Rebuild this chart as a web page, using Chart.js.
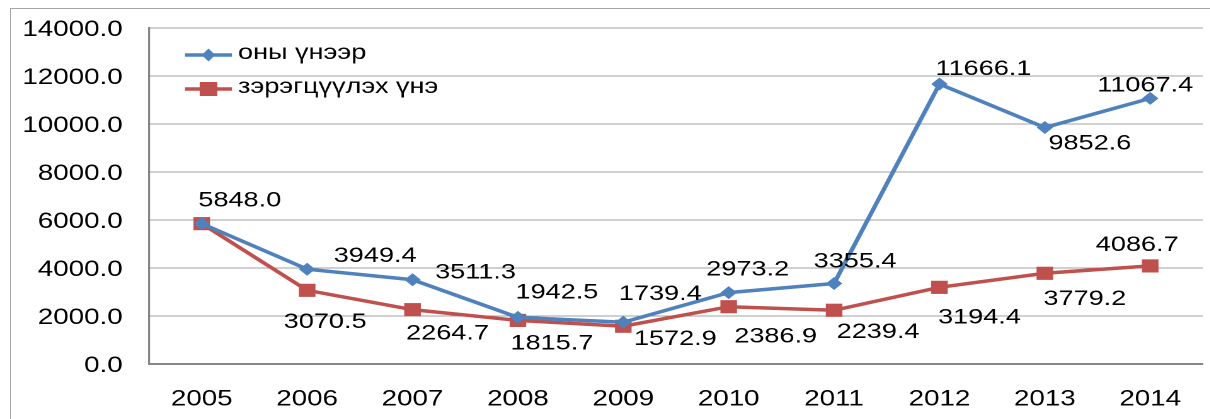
<!DOCTYPE html>
<html>
<head>
<meta charset="utf-8">
<script src="https://cdn.jsdelivr.net/npm/chart.js@4.4.1/dist/chart.umd.min.js"></script>
<style>
  html, body { margin: 0; padding: 0; background: #fff; overflow: hidden; width: 1210px; height: 419px; }
  #frame { position: absolute; left: 10px; top: 8px; width: 1400px; height: 600px; border: 1px solid #a6a6a6; box-sizing: border-box; }
  #wrap { position: absolute; left: 0; top: 0; width: 964px; height: 419px; transform: scaleX(1.26); transform-origin: 0 0; }
</style>
</head>
<body>
<div id="frame"></div>
<div id="wrap"><canvas id="c" width="964" height="419" style="width:964px;height:419px"></canvas></div>
<script>
// ---- data ----
const years = ['2005', '2006', '2007', '2008', '2009', '2010', '2011', '2012', '2013', '2014'];
const currentPrices = [5848.0, 3949.4, 3511.3, 1942.5, 1739.4, 2973.2, 3355.4, 11666.1, 9852.6, 11067.4];
const constantPrices = [5848.0, 3070.5, 2264.7, 1815.7, 1572.9, 2386.9, 2239.4, 3194.4, 3779.2, 4086.7];
const seriesNames = ['оны үнээр', 'зэрэгцүүлэх үнэ'];
const yTicks = [0, 2000, 4000, 6000, 8000, 10000, 12000, 14000];

// ---- styling / placement (not data) ----
const SX = 1.26;                 // horizontal stretch of the picture
const FONT = '"Liberation Sans", Arial, sans-serif';
const BLUE = '#4F81BD', RED = '#C0504D';
// data label offsets from their points, in screen px [dx, dy]; null = no label
const labelOffsets = [
  [[38,-23],[68,-13],[63,-7],[39,-25],[37,-28],[19,-23],[21,-22],[44,-15],[45,16],[-5,-13]],
  [null,[18,32],[35,24],[34,23],[52,13],[47,30],[44,22],[40,30],[40,26],[-13,-21]]
];

const dataLabelsPlugin = {
  id: 'dataLabels',
  afterDatasetsDraw(chart) {
    const ctx = chart.ctx;
    chart.data.datasets.forEach((ds, di) => {
      const meta = chart.getDatasetMeta(di);
      meta.data.forEach((el, i) => {
        const off = labelOffsets[di][i];
        if (!off) return;
        const x = el.x + off[0] / SX, y = el.y + off[1];
        ctx.save();
        ctx.font = '21.5px ' + FONT;
        ctx.fillStyle = '#000';
        ctx.textAlign = 'center';
        ctx.textBaseline = 'middle';
        ctx.fillText(ds.data[i].toFixed(1), x, y);
        ctx.restore();
      });
    });
  }
};

const legendPlugin = {
  id: 'insideLegend',
  afterDraw(chart) {
    const ctx = chart.ctx;
    const rows = [55, 89];
    const x0 = 146.8, x1 = 184.1, xm = (x0 + x1) / 2, xt = 188.9;
    chart.data.datasets.forEach((ds, di) => {
      const y = rows[di];
      ctx.save();
      ctx.strokeStyle = ds.borderColor;
      ctx.lineWidth = ds.borderWidth;
      ctx.beginPath(); ctx.moveTo(x0, y); ctx.lineTo(x1, y); ctx.stroke();
      ctx.fillStyle = ds.pointBackgroundColor;
      ctx.beginPath();
      if (ds.pointStyle === 'rectRot') {
        const r = 6.5;
        ctx.moveTo(xm, y - r); ctx.lineTo(xm + r * 0.82, y); ctx.lineTo(xm, y + r); ctx.lineTo(xm - r * 0.82, y); ctx.closePath();
      } else {
        ctx.rect(xm - 7, y - 7, 14, 14);
      }
      ctx.fill();
      ctx.font = '21.5px ' + FONT;
      ctx.fillStyle = '#000';
      ctx.textAlign = 'left';
      ctx.textBaseline = 'middle';
      ctx.fillText(ds.label, xt, y - 1.8);
      ctx.restore();
    });
  }
};

new Chart(document.getElementById('c'), {
  type: 'line',
  data: {
    labels: years,
    datasets: [
      {
        label: seriesNames[0], data: currentPrices,
        borderColor: BLUE, backgroundColor: BLUE, pointBackgroundColor: BLUE, pointBorderColor: BLUE,
        borderWidth: 3.5, pointStyle: 'rectRot', pointRadius: 6.5, pointBorderWidth: 0, tension: 0
      },
      {
        label: seriesNames[1], data: constantPrices,
        borderColor: RED, backgroundColor: RED, pointBackgroundColor: RED, pointBorderColor: RED,
        borderWidth: 3.5, pointStyle: 'rect', pointRadius: 9.3, pointBorderWidth: 0, tension: 0
      }
    ]
  },
  options: {
    responsive: false,
    animation: false,
    devicePixelRatio: 2,
    layout: { padding: { top: 28, right: 0, left: 0, bottom: 0 } },
    plugins: { legend: { display: false }, tooltip: { enabled: false } },
    scales: {
      x: {
        offset: true,
        grid: { display: false, drawTicks: false },
        border: { display: true, color: '#868686', width: 2 },
        ticks: { font: { size: 22, family: FONT }, color: '#000', padding: 22, maxRotation: 0 },
        afterFit(s) { s.height = 55; }
      },
      y: {
        min: 0, max: 14000,
        afterBuildTicks(s) { s.ticks = yTicks.map(v => ({ value: v })); },
        grid: { color: '#a0a0a0', lineWidth: 1, drawTicks: true, tickLength: 21, tickColor: 'rgba(0,0,0,0)' },
        border: { display: true, color: '#868686', width: 1.6 },
        ticks: { font: { size: 22, family: FONT }, color: '#000', padding: 0, labelOffset: 2,
                 callback: v => Number(v).toFixed(1) },
        afterFit(s) { s.width = 118.3; }
      }
    }
  },
  plugins: [dataLabelsPlugin, legendPlugin]
});
</script>
</body>
</html>
